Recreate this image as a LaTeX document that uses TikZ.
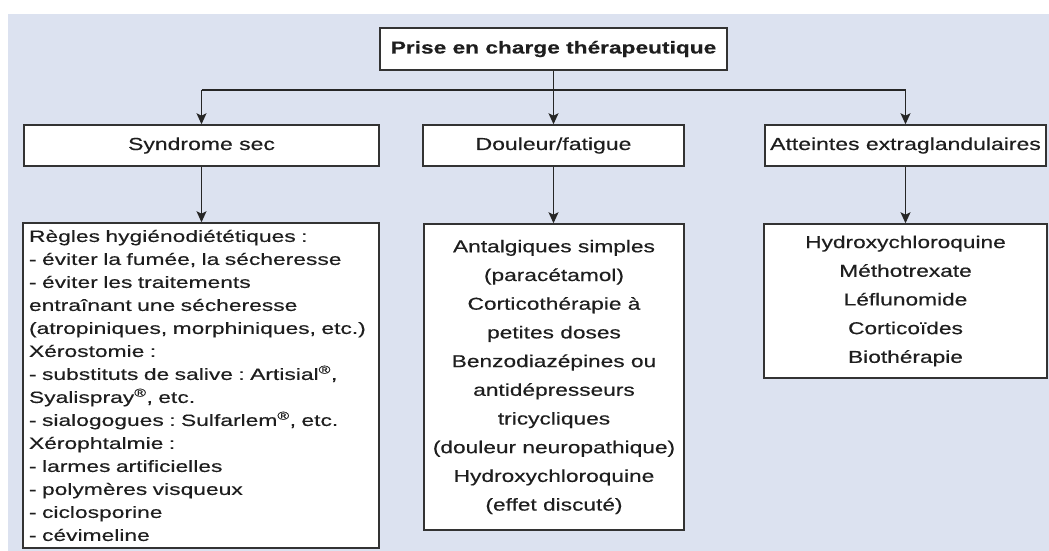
\documentclass[tikz,border=0pt]{standalone}
\usepackage{fontspec}
\setmainfont{Liberation Sans}[FakeStretch=1.32,FakeBold=0.35]
\newfontfamily\leftf{Liberation Sans}[FakeStretch=1.40,FakeBold=0.35]
\usetikzlibrary{arrows.meta}
\definecolor{bgblue}{HTML}{DCE2F0}
\definecolor{ink}{HTML}{1E1E1E}
\definecolor{edge}{HTML}{333333}
\begin{document}
\frenchspacing
\begin{tikzpicture}[x=1pt,y=-1pt,
  box/.style={draw=edge, line width=1.5pt, fill=white, inner sep=0pt, text=ink, align=center},
  arr/.style={draw=black!85, line width=1.3pt, -{Stealth[length=11pt,width=10pt,inset=2.5pt]}},
  link/.style={draw=black!85, line width=1.3pt},
  hdr/.style={box, minimum height=41pt, font=\fontsize{17.4}{20}\selectfont},
  body/.style={box, font=\fontsize{17.2}{28.7}\selectfont}]
\useasboundingbox (0,0) rectangle (1049,551);
\fill[bgblue] (8,14) rectangle (1049,551);
\node[box, minimum width=347pt, minimum height=42pt, font=\fontsize{17.2}{20}\selectfont\bfseries] (title) at (553.5,49) {Prise en charge thérapeutique};
\node[hdr, minimum width=355pt] (h1) at (201.5,145.5) {Syndrome sec};
\node[hdr, minimum width=261pt] (h2) at (553.5,145.5) {Douleur/fatigue};
\node[hdr, minimum width=281pt] (h3) at (905.5,145.5) {Atteintes extraglandulaires};
\node[box, align=left, text width=344pt, inner xsep=6pt, minimum height=325pt, font=\leftf\fontsize{16.3}{23}\selectfont] (c1) at (201,385.5) {Règles hygiénodiététiques :\\
- éviter la fumée, la sécheresse\\
- éviter les traitements\\
entraînant une sécheresse\\
(atropiniques, morphiniques, etc.)\\
Xérostomie :\\
- substituts de salive : Artisial\textsuperscript{®},\\
Syalispray\textsuperscript{®}, etc.\\
- sialogogues : Sulfarlem\textsuperscript{®}, etc.\\
Xérophtalmie :\\
- larmes artificielles\\
- polymères visqueux\\
- ciclosporine\\
- cévimeline};
\node[body, minimum width=260pt, minimum height=306pt] (c2) at (554,377) {Antalgiques simples\\
(paracétamol)\\
Corticothérapie à\\
petites doses\\
Benzodiazépines ou\\
antidépresseurs\\
tricycliques\\
(douleur neuropathique)\\
Hydroxychloroquine\\
(effet discuté)};
\node[body, minimum width=283pt, minimum height=154pt] (c3) at (905.5,301) {Hydroxychloroquine\\
Méthotrexate\\
Léflunomide\\
Corticoïdes\\
Biothérapie};
\coordinate (jy) at (0,90);
\draw[link] (h1.north |- jy) -- (h3.north |- jy);
\draw[arr] (title.south) -- (h2.north);
\draw[arr] (h1.north |- jy) -- (h1.north);
\draw[arr] (h3.north |- jy) -- (h3.north);
\draw[arr] (h1.south) -- (h1.south |- c1.north);
\draw[arr] (h2.south) -- (h2.south |- c2.north);
\draw[arr] (h3.south) -- (h3.south |- c3.north);
\end{tikzpicture}
\end{document}
